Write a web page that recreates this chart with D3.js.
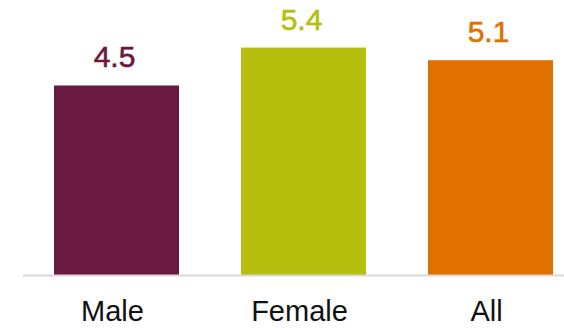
<!DOCTYPE html>
<html>
<head>
<meta charset="utf-8">
<script src="https://cdn.jsdelivr.net/npm/d3@7"></script>
<style>
  body { margin: 0; background: #fff; }
  svg { display: block; font-family: "Liberation Sans", Arial, sans-serif; }
</style>
</head>
<body>
<svg id="chart" width="564" height="328"></svg>
<script>
var categories = ["Male", "Female", "All"];
var values = [4.5, 5.4, 5.1];
var colors = ["#6a1a41", "#b6be0e", "#e07000"];

var svg = d3.select("#chart");
var baseY = 275;

var x = d3.scaleBand()
    .domain(categories)
    .range([54, 553])
    .paddingInner(62 / 187)
    .paddingOuter(0);

// ~42.1px per unit
var y = d3.scaleLinear()
    .domain([0, 6.53])
    .range([baseY, 0]);

svg.append("g")
    .selectAll("rect")
    .data(values)
    .enter()
    .append("rect")
    .attr("x", function (d, i) { return x(categories[i]); })
    .attr("y", function (d) { return y(d); })
    .attr("width", x.bandwidth())
    .attr("height", function (d) { return baseY - y(d); })
    .attr("fill", function (d, i) { return colors[i]; });

svg.append("line")
    .attr("x1", 23).attr("x2", 564)
    .attr("y1", baseY + 0.5).attr("y2", baseY + 0.5)
    .attr("stroke", "#d9d9d9")
    .attr("stroke-width", 2);

svg.append("g")
    .selectAll("text")
    .data(values)
    .enter()
    .append("text")
    .attr("x", function (d, i) { return x(categories[i]) + x.bandwidth() / 2 - 2; })
    .attr("y", function (d) { return y(d) - 18; })
    .attr("text-anchor", "middle")
    .attr("font-size", 30)
    .attr("fill", function (d, i) { return colors[i]; })
    .attr("stroke", function (d, i) { return colors[i]; })
    .attr("stroke-width", 0.6)
    .text(function (d) { return d3.format(".1f")(d); });

// category labels sit right at the bottom edge, kept just inside it
svg.append("g")
    .selectAll("text")
    .data(categories)
    .enter()
    .append("text")
    .attr("x", function (d) { return x(d) + x.bandwidth() / 2 - 4; })
    .attr("y", 321)
    .attr("text-anchor", "middle")
    .attr("font-size", 29)
    .attr("fill", "#111")
    .text(function (d) { return d; });
</script>
</body>
</html>
